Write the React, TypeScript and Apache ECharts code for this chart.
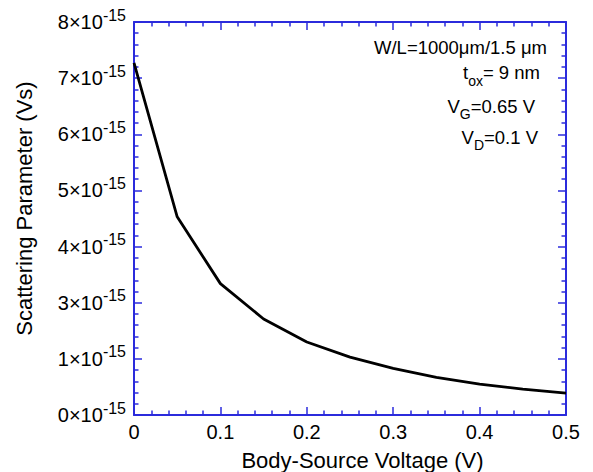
import React, { useEffect, useRef } from "react";
import * as echarts from "echarts";

// Body-source voltage (V)
const xValues = [0, 0.05, 0.1, 0.15, 0.2, 0.25, 0.3, 0.35, 0.4, 0.45, 0.5];
// Scattering parameter, in axis units (×10^-15 Vs as drawn on the axis scale)
const yValues = [6.27, 3.53, 2.34, 1.71, 1.3, 1.03, 0.83, 0.67, 0.55, 0.46, 0.39];
// Tick labels of the y axis as printed (mantissa of ×10^-15)
const yTickLabels = ["0", "1", "3", "4", "5", "6", "7", "8"];
const yExponent = "-15";

const AXIS_BLUE = "#2b2bdc";
const FONT = "Liberation Sans, Arial, sans-serif";

export default function App() {
  const ref = useRef<HTMLDivElement>(null);
  useEffect(() => {
    if (!ref.current) return;
    const chart = echarts.init(ref.current, null, { renderer: "svg" });

    const axisCommon = () => ({
      axisLine: { show: true, onZero: false, lineStyle: { color: AXIS_BLUE, width: 2 } },
      axisTick: { show: true, inside: true, length: 8, lineStyle: { color: AXIS_BLUE, width: 1.5 } },
      minorTick: { show: true, splitNumber: 5, length: 4.5, lineStyle: { color: AXIS_BLUE, width: 1.5 } },
      splitLine: { show: false },
      minorSplitLine: { show: false },
    });

    chart.setOption({
      animation: false,
      backgroundColor: "#ffffff",
      grid: {
        left: 134,
        right: 27,
        top: 22,
        bottom: 57,
        containLabel: false,
        outerBoundsMode: "none",
      },
      xAxis: [
        {
          type: "value",
          position: "bottom",
          min: 0,
          max: 0.5,
          interval: 0.1,
          ...axisCommon(),
          axisLabel: {
            show: true,
            color: "#000",
            fontFamily: FONT,
            fontSize: 20,
            margin: 7,
            formatter: (v: number) => String(Math.round(v * 10) / 10),
          },
          name: "Body-Source Voltage (V)",
          nameLocation: "middle",
          nameGap: 34,
          nameTextStyle: {
            color: "#000",
            fontFamily: FONT,
            fontSize: 22,
            padding: [0, 0, 0, 25],
          },
        },
        {
          type: "value",
          position: "top",
          min: 0,
          max: 0.5,
          interval: 0.1,
          ...axisCommon(),
          axisLabel: { show: false },
        },
      ],
      yAxis: [
        {
          type: "value",
          position: "left",
          min: 0,
          max: yTickLabels.length - 1,
          interval: 1,
          ...axisCommon(),
          axisLabel: {
            show: true,
            color: "#000",
            fontFamily: FONT,
            margin: 8,
            formatter: (v: number) => {
              const lab = yTickLabels[Math.round(v)] ?? "";
              return `{m|${lab}×10}{s|${yExponent}}`;
            },
            rich: {
              m: { fontSize: 20, fontFamily: FONT, color: "#000", lineHeight: 22 },
              s: {
                fontSize: 16,
                fontFamily: FONT,
                color: "#000",
                lineHeight: 22,
                padding: [0, 0, 14, 0],
              },
            },
          },
          name: "Scattering Parameter (Vs)",
          nameLocation: "middle",
          nameGap: 99,
          nameRotate: 90,
          nameTextStyle: {
            color: "#000",
            fontFamily: FONT,
            fontSize: 22,
            padding: [0, 0, 0, 20],
          },
        },
        {
          type: "value",
          position: "right",
          min: 0,
          max: yTickLabels.length - 1,
          interval: 1,
          ...axisCommon(),
          axisLabel: { show: false },
        },
      ],
      series: [
        {
          type: "line",
          xAxisIndex: 0,
          yAxisIndex: 0,
          data: xValues.map((x, i) => [x, yValues[i]]),
          symbol: "none",
          lineStyle: { color: "#000", width: 2.8 },
          z: 1,
        },
      ],
      graphic: [
        {
          type: "text",
          x: 547,
          y: 47,
          style: {
            text: "W/L=1000μm/1.5 μm",
            fontSize: 18.5,
            fontFamily: FONT,
            fill: "#000",
            align: "right",
            verticalAlign: "middle",
          },
        },
        {
          type: "text",
          x: 540,
          y: 72,
          style: {
            text: "{m|t}{s|ox}{m|= 9 nm}",
            align: "right",
            verticalAlign: "middle",
            fill: "#000",
            rich: {
              m: { fontSize: 18.5, fontFamily: FONT, fill: "#000", lineHeight: 24 },
              s: { fontSize: 14, fontFamily: FONT, fill: "#000", lineHeight: 24, padding: [18, 0, 0, 0] },
            },
          },
        },
        {
          type: "text",
          x: 535,
          y: 106,
          style: {
            text: "{m|V}{s|G}{m|=0.65 V}",
            align: "right",
            verticalAlign: "middle",
            fill: "#000",
            rich: {
              m: { fontSize: 18.5, fontFamily: FONT, fill: "#000", lineHeight: 24 },
              s: { fontSize: 14, fontFamily: FONT, fill: "#000", lineHeight: 24, padding: [16, 0, 0, 0] },
            },
          },
        },
        {
          type: "text",
          x: 538,
          y: 137,
          style: {
            text: "{m|V}{s|D}{m|=0.1 V}",
            align: "right",
            verticalAlign: "middle",
            fill: "#000",
            rich: {
              m: { fontSize: 18.5, fontFamily: FONT, fill: "#000", lineHeight: 24 },
              s: { fontSize: 14, fontFamily: FONT, fill: "#000", lineHeight: 24, padding: [16, 0, 0, 0] },
            },
          },
        },
      ],
    });

    return () => chart.dispose();
  }, []);

  return (
    <div
      ref={ref}
      style={{ position: "absolute", left: 0, top: 0, width: 593, height: 472 }}
    />
  );
}
